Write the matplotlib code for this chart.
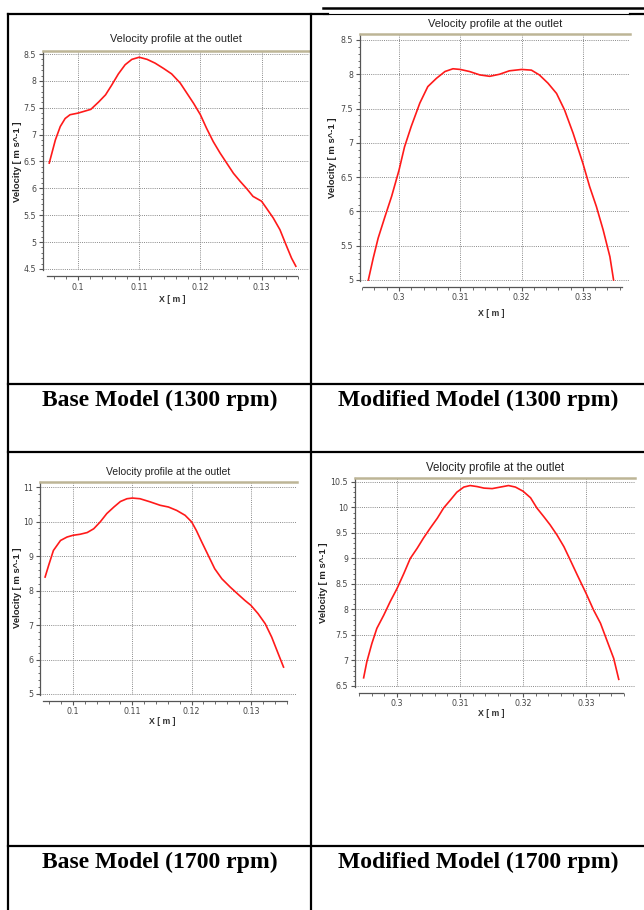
import numpy as np
import matplotlib
matplotlib.use("Agg")
import matplotlib.pyplot as plt
from matplotlib.lines import Line2D
from matplotlib.ticker import MultipleLocator, FuncFormatter

W, H = 644, 910

# data
x_base_1300 = [0.0953, 0.0963, 0.0971, 0.0979, 0.0987, 0.1000, 0.1009, 0.1021, 0.1034, 0.1045,
               0.1055, 0.1066, 0.1077, 0.1088, 0.1100, 0.1113, 0.1126, 0.1140, 0.1153, 0.1167,
               0.1178, 0.1189, 0.1200, 0.1210, 0.1221, 0.1232, 0.1243, 0.1254, 0.1265, 0.1276,
               0.1286, 0.1300, 0.1308, 0.1319, 0.1330, 0.1341, 0.1349, 0.1356]
v_base_1300 = [6.47, 6.90, 7.15, 7.30, 7.37, 7.40, 7.43, 7.47, 7.61, 7.74,
               7.92, 8.13, 8.30, 8.40, 8.44, 8.40, 8.33, 8.23, 8.13, 7.96,
               7.77, 7.58, 7.37, 7.12, 6.87, 6.66, 6.47, 6.28, 6.13, 5.99,
               5.85, 5.76, 5.63, 5.45, 5.23, 4.92, 4.70, 4.55]

x_mod_1300 = [0.2950, 0.2958, 0.2966, 0.2977, 0.2988, 0.3000, 0.3009, 0.3020, 0.3034, 0.3047,
              0.3061, 0.3075, 0.3088, 0.3100, 0.3115, 0.3132, 0.3148, 0.3164, 0.3180, 0.3200,
              0.3216, 0.3229, 0.3243, 0.3257, 0.3270, 0.3284, 0.3300, 0.3311, 0.3322, 0.3333,
              0.3344, 0.3350]
v_mod_1300 = [5.00, 5.32, 5.61, 5.92, 6.22, 6.60, 6.94, 7.24, 7.58, 7.82,
              7.94, 8.04, 8.08, 8.07, 8.04, 7.99, 7.97, 8.00, 8.05, 8.07,
              8.06, 7.99, 7.87, 7.72, 7.48, 7.14, 6.70, 6.36, 6.07, 5.73,
              5.34, 5.00]

x_base_1700 = [0.0953, 0.0959, 0.0967, 0.0979, 0.0990, 0.1000, 0.1012, 0.1024, 0.1035, 0.1046,
               0.1057, 0.1069, 0.1080, 0.1091, 0.1100, 0.1113, 0.1130, 0.1147, 0.1161, 0.1175,
               0.1189, 0.1200, 0.1208, 0.1217, 0.1228, 0.1239, 0.1251, 0.1265, 0.1279, 0.1290,
               0.1300, 0.1312, 0.1324, 0.1335, 0.1346, 0.1355]
v_base_1700 = [8.39, 8.73, 9.16, 9.45, 9.55, 9.60, 9.63, 9.68, 9.79, 9.99,
               10.23, 10.42, 10.58, 10.66, 10.68, 10.66, 10.57, 10.47, 10.42, 10.32,
               10.18, 9.99, 9.74, 9.41, 9.02, 8.63, 8.34, 8.10, 7.88, 7.71,
               7.57, 7.33, 7.04, 6.65, 6.17, 5.78]

x_mod_1700 = [0.2947, 0.2952, 0.2960, 0.2968, 0.2979, 0.2989, 0.3000, 0.3011, 0.3021, 0.3032,
              0.3042, 0.3053, 0.3064, 0.3074, 0.3085, 0.3095, 0.3106, 0.3116, 0.3127, 0.3138,
              0.3151, 0.3164, 0.3177, 0.3188, 0.3200, 0.3212, 0.3222, 0.3233, 0.3243, 0.3254,
              0.3265, 0.3275, 0.3286, 0.3300, 0.3312, 0.3323, 0.3333, 0.3344, 0.3352]
v_mod_1700 = [6.66, 6.97, 7.33, 7.63, 7.89, 8.15, 8.41, 8.71, 9.00, 9.20,
              9.40, 9.60, 9.79, 9.99, 10.15, 10.30, 10.40, 10.43, 10.41, 10.38,
              10.37, 10.40, 10.43, 10.40, 10.32, 10.19, 9.99, 9.82, 9.66, 9.46,
              9.23, 8.97, 8.68, 8.32, 7.99, 7.73, 7.40, 7.04, 6.63]

captions = ["Base Model (1300 rpm)", "Modified Model (1300 rpm)",
            "Base Model (1700 rpm)", "Modified Model (1700 rpm)"]

fig = plt.figure(figsize=(W / 100, H / 100), dpi=100)
fig.patch.set_facecolor("white")


def fx(x):
    return x / W


def fy(y):
    return 1 - y / H


def hline(y, x0, x1, lw=1.6):
    fig.add_artist(Line2D([fx(x0), fx(x1)], [fy(y), fy(y)], color="black", lw=lw,
                          transform=fig.transFigure))


def vline(x, y0, y1, lw=1.6):
    fig.add_artist(Line2D([fx(x), fx(x)], [fy(y0), fy(y1)], color="black", lw=lw,
                          transform=fig.transFigure))


# table frame
hline(14, 8, 328)
hline(8, 323, 644, lw=1.8)
hline(13.5, 323, 630, lw=0.8)
hline(14, 630, 644)
vline(8, 14, 910)
vline(311, 14, 910)
hline(384, 8, 644)
hline(452, 8, 644)
hline(846, 8, 644)

fmt = FuncFormatter(lambda v, p: "%g" % round(v, 4))


def profile(box, xlim, ylim, bounds, xs, vs, ymaj, ymin, title, tpos, xlpos, ylpos, tsize=8):
    left, top, right, bottom = box
    ax = fig.add_axes([fx(left), fy(bottom), (right - left) / W, (bottom - top) / H])
    ax.plot(xs, vs, color="#ff1a1a", lw=1.2)
    ax.set_xlim(*xlim)
    ax.set_ylim(*ylim)
    ax.xaxis.set_major_locator(MultipleLocator(0.01))
    ax.xaxis.set_minor_locator(MultipleLocator(0.002))
    ax.yaxis.set_major_locator(MultipleLocator(ymaj))
    ax.yaxis.set_minor_locator(MultipleLocator(ymin))
    ax.xaxis.set_major_formatter(fmt)
    ax.yaxis.set_major_formatter(fmt)
    ax.grid(True, which="major", color="#8a8a8a", lw=0.7, linestyle=(0, (1, 1.2)))
    ax.spines["right"].set_visible(False)
    ax.spines["top"].set_color("#bdb596")
    ax.spines["top"].set_linewidth(1.8)
    ax.spines["left"].set_color("#555555")
    ax.spines["bottom"].set_color("#555555")
    ax.spines["left"].set_linewidth(0.9)
    ax.spines["bottom"].set_linewidth(0.9)
    ax.spines["bottom"].set_position(("outward", 4))
    ax.spines["bottom"].set_bounds(*bounds)
    ax.tick_params(which="major", direction="out", length=3, width=0.8, color="#555555",
                   labelsize=5.7, labelcolor="#444444", pad=2)
    ax.tick_params(which="minor", direction="out", length=1.8, width=0.6, color="#555555")
    fig.text(fx(tpos[0]), fy(tpos[1]), title, ha="center", va="center",
             fontsize=tsize, family="Liberation Sans", color="#222222")
    fig.text(fx(xlpos[0]), fy(xlpos[1]), "X [ m ]", ha="center", va="center",
             fontsize=6.3, fontweight="bold", family="Liberation Sans", color="#333333")
    fig.text(fx(ylpos[0]), fy(ylpos[1]), "Velocity [ m s^-1 ]", ha="center", va="center",
             rotation=90, fontsize=6.8, fontweight="bold", family="Liberation Sans",
             color="#222222")
    return ax


title = "Velocity profile at the outlet"

profile((43, 51, 309, 270), (0.09428, 0.13775), (4.48, 8.556), (0.09493, 0.13578),
        x_base_1300, v_base_1300, 0.5, 0.1, title, (176, 39), (172, 299), (18, 162), tsize=7.8)
profile((360, 34, 630, 281), (0.29364, 0.33768), (4.985, 8.587), (0.29413, 0.33638),
        x_mod_1300, v_mod_1300, 0.5, 0.1, title, (495, 24), (491, 313), (333, 158), tsize=8)
profile((40, 482, 297, 695), (0.09444, 0.13777), (4.971, 11.145), (0.09494, 0.13609),
        x_base_1700, v_base_1700, 1, 0.2, title, (168, 472), (162, 722), (18, 588), tsize=7.5)
profile((355, 478, 635, 687), (0.29333, 0.33778), (6.48, 10.578), (0.29397, 0.33587),
        x_mod_1700, v_mod_1700, 0.5, 0.1, title, (495, 468), (491, 713), (323, 583), tsize=8.3)

cap_pos = [(160, 400), (478, 400), (160, 862), (478, 862)]
for (cx, cy), txt in zip(cap_pos, captions):
    fig.text(fx(cx), fy(cy), txt, ha="center", va="center", fontsize=17,
             fontweight="bold", family="Liberation Serif", color="black")

fig.savefig("out.png", dpi=100, facecolor="white")
